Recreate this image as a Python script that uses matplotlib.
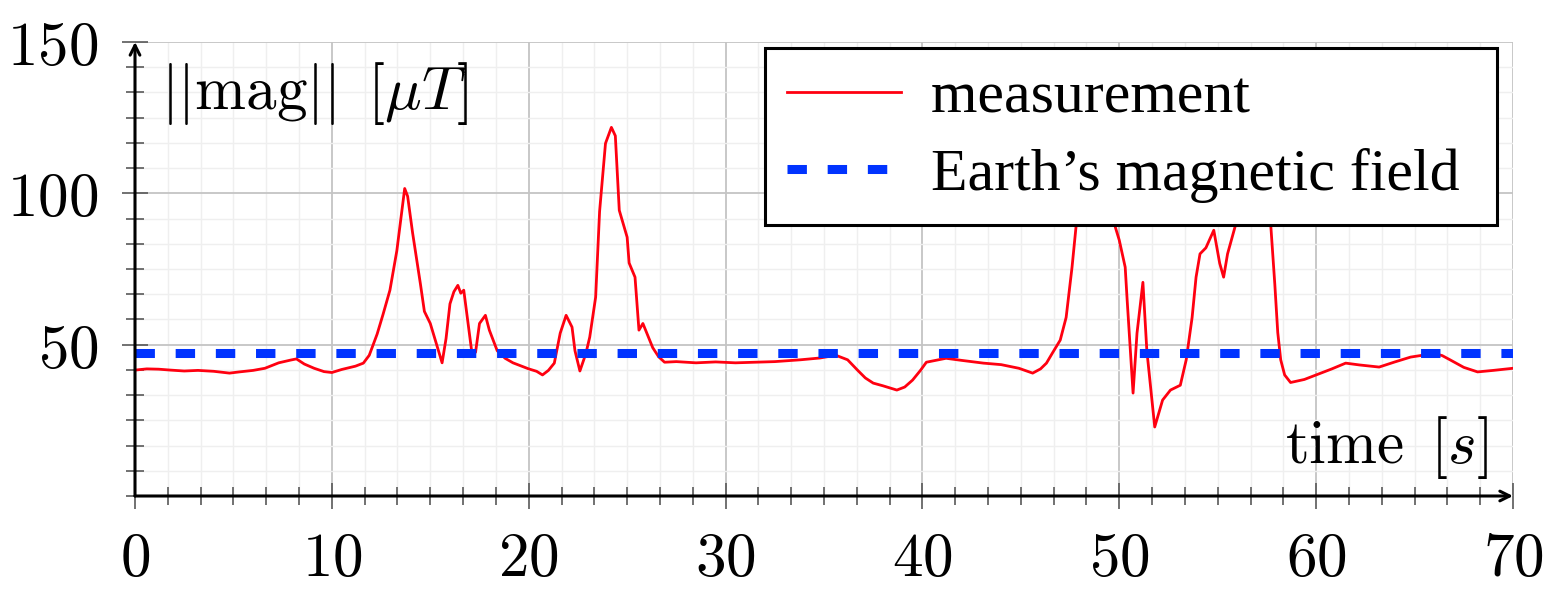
import numpy as np
import matplotlib
matplotlib.use("Agg")
import matplotlib.pyplot as plt

# magnitude of the magnetometer reading
time_s = [0.0, 0.6, 1.2, 1.8, 2.5, 3.2, 4.0, 4.8, 5.3, 6.0, 6.6, 7.3, 7.9, 8.2,
          8.6, 9.1, 9.6, 10.0, 10.5, 11.2, 11.6, 11.9, 12.3, 12.6, 12.95, 13.3,
          13.55, 13.7, 13.85, 14.1, 14.5, 14.7, 15.0, 15.3, 15.6, 15.8, 16.0,
          16.2, 16.4, 16.55, 16.7, 16.9, 17.1, 17.3, 17.5, 17.8, 18.0, 18.4,
          18.8, 19.2, 19.6, 20.0, 20.4, 20.7, 21.0, 21.3, 21.6, 21.9, 22.2,
          22.35, 22.6, 22.9, 23.1, 23.4, 23.6, 23.9, 24.2, 24.4, 24.6, 25.0,
          25.1, 25.4, 25.6, 25.8, 26.3, 26.6, 26.9, 27.5, 28.5, 29.5, 30.5,
          31.5, 32.5, 33.8, 34.8, 35.6, 36.2, 36.7, 37.1, 37.5, 38.0, 38.7,
          39.1, 39.5, 39.9, 40.2, 41.2, 42.0, 43.1, 44.0, 44.9, 45.6, 46.0,
          46.3, 46.6, 47.0, 47.3, 47.6, 47.8, 48.1, 48.5, 48.9, 49.3, 49.6,
          49.8, 50.0, 50.3, 50.4, 50.7, 50.9, 51.2, 51.4, 51.8, 52.2, 52.6,
          53.1, 53.4, 53.7, 53.9, 54.1, 54.4, 54.8, 55.1, 55.3, 55.5, 55.9,
          56.3, 56.8, 57.3, 57.7, 57.9, 58.05, 58.2, 58.4, 58.7, 59.4, 60.0,
          60.8, 61.5, 62.2, 63.2, 64.0, 64.8, 65.4, 65.9, 66.4, 66.8, 67.5,
          68.2, 69.0, 70.0]
mag_uT = [41.6, 42.0, 41.9, 41.6, 41.3, 41.5, 41.2, 40.6, 41.0, 41.5, 42.2,
          44.0, 44.9, 45.3, 43.6, 42.2, 41.1, 40.8, 41.8, 42.9, 43.9, 46.5,
          53.5, 60.0, 68.0, 81.0, 94.0, 101.6, 99.0, 87.0, 70.0, 61.0, 57.0,
          50.5, 44.0, 52.0, 63.5, 67.5, 69.6, 67.0, 68.0, 58.0, 48.0, 47.5,
          57.0, 59.7, 54.8, 48.0, 45.5, 44.0, 43.0, 42.0, 41.2, 40.0, 41.5,
          43.9, 53.8, 59.7, 55.8, 48.0, 41.3, 47.0, 52.5, 65.7, 94.0, 116.5,
          121.8, 119.0, 94.4, 85.5, 77.0, 72.3, 54.8, 57.0, 49.0, 46.0, 44.2,
          44.4, 44.0, 44.3, 44.0, 44.2, 44.4, 45.0, 45.6, 46.5, 45.0, 41.6,
          39.0, 37.3, 36.4, 35.0, 36.0, 38.3, 41.5, 44.2, 45.5, 44.8, 43.9,
          43.4, 42.2, 40.6, 42.0, 43.9, 47.2, 51.5, 59.0, 75.6, 88.8, 105.0,
          118.0, 122.0, 115.0, 97.0, 88.8, 84.5, 75.6, 64.7, 34.0, 53.8, 70.6,
          48.0, 22.8, 31.7, 35.0, 36.6, 45.0, 59.0, 72.3, 80.0, 82.0, 87.8,
          76.9, 72.3, 80.0, 89.4, 104.0, 112.0, 106.0, 89.0, 70.0, 54.0, 45.0,
          40.0, 37.5, 38.5, 40.0, 42.0, 43.9, 43.3, 42.6, 44.3, 45.9, 46.5,
          47.2, 46.4, 45.0, 42.5, 41.0, 41.5, 42.2]
earth_field_uT = 47.2

x_ticks = [0, 10, 20, 30, 40, 50, 60, 70]
y_ticks = [50, 100, 150]

plt.rcParams['mathtext.fontset'] = 'cm'

fig = plt.figure(figsize=(15.54, 5.89), dpi=100)
ax = fig.add_axes([135 / 1554, 93 / 589, 1378 / 1554, 454 / 589])
ax.set_xlim(0, 70)
ax.set_ylim(0, 150)

# trailing space widens the legend box on the right like the reference
ax.plot(time_s, mag_uT, color='#ff0010', lw=2.0, label='measurement ', zorder=3)
ax.axhline(earth_field_uT, color='#0033ff', lw=6.5, dashes=(2.15, 2.3),
           dash_capstyle='butt', label='Earth\u2019s magnetic field ', zorder=3)

# ticks and grid
ax.set_xticks(x_ticks, labels=[f'${t}$' for t in x_ticks])
ax.set_yticks(y_ticks, labels=[f'${t}$' for t in y_ticks])
ax.set_xticks(np.arange(0, 70.01, 10 / 6), minor=True)
ax.set_yticks(np.arange(0, 150.01, 50 / 6), minor=True)
ax.tick_params(which='both', direction='inout', color='0.35', width=1.2,
               labelsize=44, top=False, right=False)
ax.tick_params(which='major', length=19)
ax.tick_params(which='minor', length=13)
ax.tick_params(axis='x', pad=15)
ax.tick_params(axis='y', pad=17)
ax.grid(which='major', color='#c4c4c4', lw=1.3)
ax.grid(which='minor', color='#efefef', lw=1.0)
ax.set_axisbelow(True)

for side in ax.spines.values():
    side.set_visible(False)
arrow = dict(arrowstyle='->,head_length=0.7,head_width=0.35', lw=2.2,
             color='black', shrinkA=0, shrinkB=0)
ax.annotate('', xy=(1, 0), xytext=(0, 0), xycoords='axes fraction',
            arrowprops=arrow, annotation_clip=False)
ax.annotate('', xy=(0, 1), xytext=(0, 0), xycoords='axes fraction',
            arrowprops=arrow, annotation_clip=False)

ax.text(1.3, 128, r'$||\mathrm{mag}||\ \,[\mu T]$', fontsize=44,
        ha='left', va='baseline')
ax.text(68.7, 10.9, r'$\mathrm{time}\ \,[s]$', fontsize=44,
        ha='right', va='baseline')

leg = ax.legend(loc='upper right', bbox_to_anchor=(1497 / 1554, 1 - 48 / 589),
                bbox_transform=fig.transFigure,
                prop={'family': 'Liberation Serif', 'size': 43},
                frameon=True, fancybox=False, edgecolor='black', framealpha=1,
                handlelength=1.9, handletextpad=0.5, borderpad=0.38,
                labelspacing=0.37, borderaxespad=0)
leg.get_frame().set_linewidth(2.2)
leg.set_zorder(10)

fig.savefig('out.png', dpi=100)
